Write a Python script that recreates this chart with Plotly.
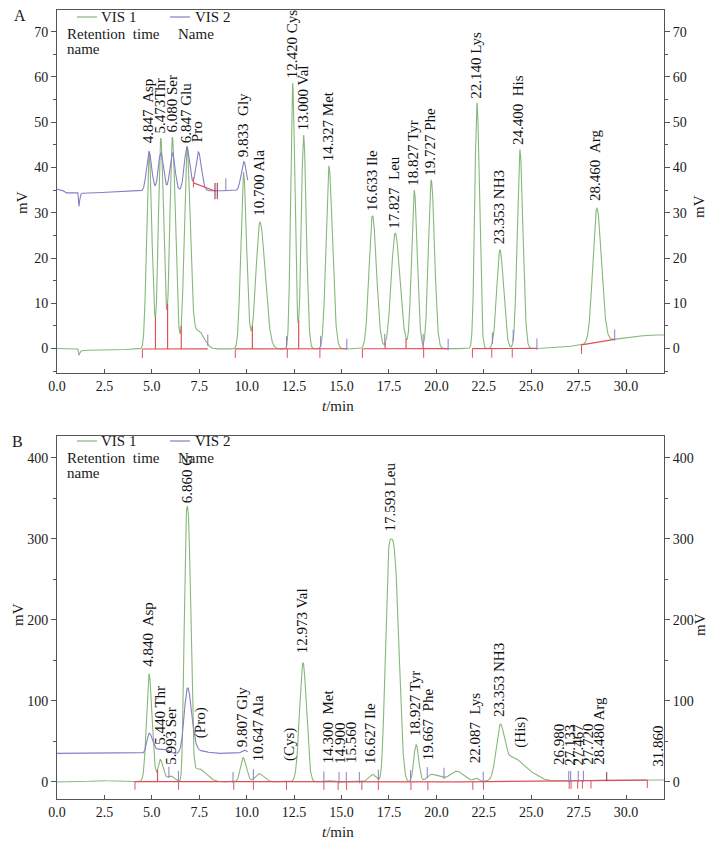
import numpy as np
import plotly.graph_objects as go

# page body has an 8px margin: figure sized to fit the window exactly
W, H = 701, 832
OFF = 8
FONT = "Liberation Serif"
GREEN = "#86b87a"
PURPLE = "#8a7cc8"
RED = "#e0505a"
DARKRED = "#8a3040"

# ---------------- Panel A (standard) ----------------
A_vis1_rt = [4.85, 5.47, 6.08, 6.85, 7.45, 9.83, 10.70, 12.42, 13.00, 14.33, 16.63, 17.83, 18.83, 19.73, 22.14, 23.35, 24.40, 28.46]
A_vis1_h = [43.6, 46.6, 46.8, 44.2, 4.0, 39.0, 28.0, 58.7, 47.2, 40.4, 29.4, 25.5, 35.0, 37.2, 54.3, 21.8, 44.0, 29.6]
A_vis1_sl = [0.125, 0.125, 0.13, 0.14, 0.30, 0.14, 0.21, 0.105, 0.12, 0.15, 0.18, 0.21, 0.14, 0.15, 0.115, 0.17, 0.14, 0.21]
A_vis1_sr = [0.15, 0.15, 0.16, 0.17, 0.30, 0.16, 0.27, 0.12, 0.14, 0.19, 0.21, 0.25, 0.16, 0.17, 0.13, 0.19, 0.16, 0.24]
A_vis1_p = [2] * 18
A_base_t = [0.0, 1.10, 1.16, 1.24, 1.40, 3.0, 4.5, 25.0, 26.5, 27.5, 28.5, 29.5, 30.5, 31.3, 32.0]
A_base_v = [0.0, -0.1, -1.5, -0.5, -0.4, -0.3, -0.1, 0.0, 0.2, 0.7, 1.4, 2.1, 2.7, 3.0, 3.0]

A_vis2_rt = [4.85, 5.47, 6.08, 6.85, 7.45, 9.85]
A_vis2_h = [8.7, 8.4, 8.4, 9.7, 8.6, 6.4]
A_vis2_sl = [0.13, 0.13, 0.13, 0.14, 0.14, 0.14]
A_vis2_sr = [0.14, 0.14, 0.14, 0.15, 0.16, 0.14]
A_vis2_p = [2] * 6
A_vis2_base_t = [0.0, 0.30, 0.45, 1.10, 1.16, 1.22, 1.30, 2.5, 4.5, 10.05]
A_vis2_base_v = [35.2, 35.0, 34.4, 34.4, 31.4, 33.8, 34.3, 34.5, 34.8, 34.9]
A_vis2_end = 10.05

A_labels = ["4.847  Asp", "5.473Thr", "6.080 Ser", "6.847 Glu", "Pro", "9.833  Gly", "10.700 Ala",
            "12.420 Cys", "13.000 Val", "14.327 Met", "16.633 Ile", "17.827  Leu", "18.827 Tyr",
            "19.727 Phe", "22.140 Lys", "23.353 NH3", "24.400  His", "28.460  Arg"]
A_label_x = [4.80, 5.45, 6.05, 6.80, 7.42, 9.80, 10.68, 12.40, 12.98, 14.30, 16.60, 17.76, 18.76,
             19.66, 22.08, 23.30, 24.30, 28.40]
A_label_y = [44.6, 46.8, 47.0, 44.8, 45.0, 41.6, 28.6, 59.0, 47.5, 40.8, 29.8, 25.9, 35.4,
             37.5, 54.6, 22.4, 44.3, 32.0]

A_drop_t = [5.19, 5.83, 6.55, 10.30, 12.74, 17.30, 18.40, 19.30]
A_start_t = [4.50, 9.40, 12.14, 13.86, 16.10, 19.33, 21.90, 22.92, 24.00, 27.65]
A_end_t = [7.95, 12.10, 13.90, 15.28, 17.28, 19.30, 20.62, 22.95, 24.05, 25.30, 29.40]
A_seg_t0 = [4.50, 9.40, 16.10, 21.90, 27.65]
A_seg_t1 = [7.95, 15.28, 20.62, 25.30, 29.40]
A2_seg_t = [7.19, 8.33]
A2_seg_v = [36.6, 34.8]
A2_tick_t = [7.19, 8.33, 8.45, 8.90]

# ---------------- Panel B (sample) ----------------
B_vis1_rt = [4.85, 5.44, 6.00, 6.86, 7.45, 9.81, 10.65, 12.97, 14.30, 16.63, 17.61, 18.93, 19.67, 20.10, 21.05, 22.09, 23.35, 24.00, 25.00]
B_vis1_h = [133, 27, 7, 337, 16, 29.6, 10, 147, 1.5, 9, 300, 46, 8, 5, 13, 4, 58, 29, 8]
B_vis1_sl = [0.135, 0.11, 0.2, 0.15, 0.3, 0.14, 0.2, 0.18, 0.2, 0.2, 0.287, 0.12, 0.2, 0.25, 0.35, 0.12, 0.2, 0.5, 0.45]
B_vis1_sr = [0.16, 0.15, 0.2, 0.19, 0.4, 0.17, 0.25, 0.18, 0.2, 0.2, 0.395, 0.14, 0.25, 0.3, 0.4, 0.12, 0.22, 0.5, 0.45]
B_vis1_p = [2, 2, 2, 2.6, 2, 2, 2, 2, 2, 2, 3, 2, 2, 2, 2, 2, 2, 2, 2]
B_base_t = [0.0, 1.5, 2.2, 3.0, 4.2, 20.0, 26.0, 28.0, 32.0]
B_base_v = [0.0, 0.5, 2.0, 1.0, 0.5, 0.0, 1.0, 2.0, 2.5]

B_vis2_rt = [4.86, 5.45, 5.80, 6.88, 7.50, 9.88]
B_vis2_h = [25, 5, 4, 80, 3, 4]
B_vis2_sl = [0.12, 0.15, 0.15, 0.17, 0.4, 0.14]
B_vis2_sr = [0.20, 0.15, 0.15, 0.22, 0.4, 0.14]
B_vis2_p = [2] * 6
B_vis2_base_t = [0.0, 10.05]
B_vis2_base_v = [35.3, 35.3]
B_vis2_end = 10.05

B_labels = ["4.840  Asp", "5.440 Thr", "5.993 Ser", "6.860 G", "(Pro)", "9.807 Gly", "10.647 Ala",
            "(Cys)", "12.973 Val", "14.300  Met", "14.900", "15.560", "16.627 Ile", "17.593 Leu",
            "18.927 Tyr", "19.667  Phe", "22.087  Lys", "23.353 NH3", "(His)", "26.980", "27.133",
            "27.467", "27.720", "28.480 Arg", "31.860"]
B_label_x = [4.80, 5.45, 6.03, 6.87, 7.60, 9.77, 10.60, 12.25, 12.93, 14.27, 14.90, 15.50, 16.50, 17.55,
             18.85, 19.60, 22.05, 23.27, 24.45, 26.43, 27.04, 27.48, 28.00, 28.59, 31.70]
B_label_y = [138, 42, 18, 340, 50, 39, 22, 22, 155, 19, 19, 19, 19, 306,
             53, 23, 19, 77, 39, 17, 17, 17, 17, 18, 15]

B_drop_t = [5.30]
B_start_t = [4.11, 6.41, 9.32, 10.35, 12.10, 14.07, 14.82, 15.27, 16.07, 16.94, 18.66, 19.55, 21.92,
             22.48, 27.00, 27.10, 27.45, 27.70, 28.15, 31.12]
B_end_t = [5.90, 6.40, 9.28, 10.35, 14.07, 14.87, 15.25, 15.94, 16.94, 18.64, 19.52, 20.40, 22.47,
           26.98, 27.08, 27.48, 27.75]
B_dark_t = [28.98]
B_seg_t0 = [4.11]
B_seg_t1 = [31.12]

A_yticks = [0, 10, 20, 30, 40, 50, 60, 70]
B_yticks = [0, 100, 200, 300, 400]
x_ticks = [0, 2.5, 5, 7.5, 10, 12.5, 15, 17.5, 20, 22.5, 25, 27.5, 30]

# ------------------------------------------------
t = np.linspace(0, 32, 3201)


def signal(tt, rt, h, sl, sr, p, bt, bv):
    y = np.interp(tt, bt, bv)
    for r, hh, a, b, pp in zip(rt, h, sl, sr, p):
        s = np.where(tt < r, a, b)
        y = y + hh * np.exp(-0.5 * np.abs((tt - r) / s) ** pp)
    return y


A1 = signal(t, A_vis1_rt, A_vis1_h, A_vis1_sl, A_vis1_sr, A_vis1_p, A_base_t, A_base_v)
t2a = t[t <= A_vis2_end]
A2 = signal(t2a, A_vis2_rt, A_vis2_h, A_vis2_sl, A_vis2_sr, A_vis2_p, A_vis2_base_t, A_vis2_base_v)
B1 = signal(t, B_vis1_rt, B_vis1_h, B_vis1_sl, B_vis1_sr, B_vis1_p, B_base_t, B_base_v)
t2b = t[t <= B_vis2_end]
B2 = signal(t2b, B_vis2_rt, B_vis2_h, B_vis2_sl, B_vis2_sr, B_vis2_p, B_vis2_base_t, B_vis2_base_v)


def segs(pairs):
    xs, ys = [], []
    for (x0, y0, x1, y1) in pairs:
        xs += [x0, x1, None]
        ys += [y0, y1, None]
    return xs, ys


fig = go.Figure()


def add_line(xs, ys, color, xa, ya, width=1.0):
    fig.add_trace(go.Scatter(x=xs, y=ys, mode="lines", line=dict(color=color, width=width),
                             xaxis=xa, yaxis=ya, hoverinfo="skip", showlegend=False))


def panel_marks(tt, curve, base_t, base_v, drop_t, start_t, end_t, seg_t0, seg_t1, down, up, xa, ya):
    bl = lambda x: float(np.interp(x, base_t, base_v))
    cv = lambda x: float(np.interp(x, tt, curve))
    xs, ys = [], []
    for a, b in zip(seg_t0, seg_t1):
        sel = np.linspace(a, b, 40)
        xs += list(sel) + [None]
        ys += [bl(v) for v in sel] + [None]
    add_line(xs, ys, RED, xa, ya, 1.2)
    xs, ys = segs([(d, bl(d), d, cv(d)) for d in drop_t])
    add_line(xs, ys, RED, xa, ya, 1.2)
    xs, ys = segs([(s, bl(s), s, bl(s) - down) for s in start_t])
    add_line(xs, ys, RED, xa, ya, 1.0)
    xs, ys = segs([(e, cv(e) - up * 0.15, e, cv(e) + up) for e in end_t])
    add_line(xs, ys, PURPLE, xa, ya, 1.0)


# Panel A traces
add_line(list(t), list(A1), GREEN, "x", "y", 1.1)
add_line(list(t2a), list(A2), PURPLE, "x", "y", 1.1)
panel_marks(t, A1, A_base_t, A_base_v, A_drop_t, A_start_t, A_end_t, A_seg_t0, A_seg_t1, 2.0, 2.2, "x", "y")
add_line(A2_seg_t, A2_seg_v, RED, "x", "y", 1.2)
xs, ys = segs([(A2_tick_t[0], 35.6, A2_tick_t[0], 37.8)])
add_line(xs, ys, RED, "x", "y", 1.0)
xs, ys = segs([(A2_tick_t[1], 33.0, A2_tick_t[1], 36.6), (A2_tick_t[2], 33.0, A2_tick_t[2], 36.6)])
add_line(xs, ys, DARKRED, "x", "y", 1.0)
xs, ys = segs([(A2_tick_t[3], 34.9, A2_tick_t[3], 37.6)])
add_line(xs, ys, PURPLE, "x", "y", 1.0)

# Panel B traces
add_line(list(t), list(B1), GREEN, "x2", "y2", 1.1)
add_line(list(t2b), list(B2), PURPLE, "x2", "y2", 1.1)
panel_marks(t, B1, B_base_t, B_base_v, B_drop_t, B_start_t, B_end_t, B_seg_t0, B_seg_t1, 10.0, 12.0, "x2", "y2")
xs, ys = segs([(d, float(np.interp(d, t, B1)) - 1, d, float(np.interp(d, t, B1)) + 10) for d in B_dark_t])
add_line(xs, ys, DARKRED, "x2", "y2", 1.0)

# dummy traces so the right-hand axes are drawn
fig.add_trace(go.Scatter(x=[0], y=[0], xaxis="x", yaxis="y3", mode="markers",
                         marker=dict(opacity=0), hoverinfo="skip", showlegend=False))
fig.add_trace(go.Scatter(x=[0], y=[0], xaxis="x2", yaxis="y4", mode="markers",
                         marker=dict(opacity=0), hoverinfo="skip", showlegend=False))


def px(v):
    return (v - OFF) / W


def py(v):
    return 1 - (v - OFF) / H


AX = "#555555"
TF = dict(family=FONT, size=14, color="#1a1a1a")
xdom = [px(57), px(664)]
xcommon = dict(domain=xdom, range=[0, 32], tickvals=x_ticks, tickformat=".1f", ticks="inside",
               ticklen=4, tickcolor=AX, showline=True, linecolor=AX, linewidth=1, mirror=True,
               showgrid=False, zeroline=False, tickfont=TF, fixedrange=True, automargin=False)
ycommon = dict(ticks="outside", ticklen=5, tickcolor=AX, showline=True, linecolor=AX, linewidth=1,
               showgrid=False, zeroline=False, tickfont=TF, fixedrange=True, automargin=False)

fig.update_layout(
    width=W, height=H, margin=dict(l=0, r=0, t=0, b=0),
    paper_bgcolor="white", plot_bgcolor="white", showlegend=False,
    font=dict(family=FONT, size=14, color="#1a1a1a"),
    xaxis=dict(**xcommon, anchor="y"),
    xaxis2=dict(**xcommon, anchor="y2"),
    yaxis=dict(**ycommon, domain=[py(373), py(10)], range=[-5.4, 74.8], tickvals=A_yticks,
               minor=dict(dtick=5, tick0=0, ticks="outside", ticklen=3, tickcolor=AX), anchor="x"),
    yaxis3=dict(**ycommon, domain=[py(373), py(10)], range=[-5.4, 74.8], tickvals=A_yticks,
                minor=dict(dtick=5, tick0=0, ticks="outside", ticklen=3, tickcolor=AX),
                overlaying="y", side="right", anchor="x"),
    yaxis2=dict(**ycommon, domain=[py(799), py(436)], range=[-21, 427], tickvals=B_yticks,
                minor=dict(dtick=50, tick0=0, ticks="outside", ticklen=3, tickcolor=AX), anchor="x2"),
    yaxis4=dict(**ycommon, domain=[py(799), py(436)], range=[-21, 427], tickvals=B_yticks,
                minor=dict(dtick=50, tick0=0, ticks="outside", ticklen=3, tickcolor=AX),
                overlaying="y2", side="right", anchor="x2"),
)

ann = []
LF = dict(family=FONT, size=15, color="#111111")
for txt, x, y in zip(A_labels, A_label_x, A_label_y):
    ann.append(dict(x=x, y=y, xref="x", yref="y", text=txt, textangle=-90, showarrow=False,
                    xanchor="center", yanchor="bottom", font=LF, yshift=1))
for txt, x, y in zip(B_labels, B_label_x, B_label_y):
    ann.append(dict(x=x, y=y, xref="x2", yref="y2", text=txt, textangle=-90, showarrow=False,
                    xanchor="center", yanchor="bottom", font=LF, yshift=1))

GF = dict(family=FONT, size=15, color="#1a1a1a")
shapes = []
for dy, letter, lx, ly in [(0, "A", 20, 16), (424, "B", 17, 441)]:
    ann.append(dict(x=px(lx), y=py(ly), xref="paper", yref="paper", text=letter, showarrow=False,
                    xanchor="center", yanchor="middle", font=dict(family=FONT, size=16, color="#1a1a1a")))
    shapes.append(dict(type="line", xref="paper", yref="paper", x0=px(77), x1=px(97),
                       y0=py(17 + dy), y1=py(17 + dy), line=dict(color=GREEN, width=1.2)))
    shapes.append(dict(type="line", xref="paper", yref="paper", x0=px(170), x1=px(190),
                       y0=py(17 + dy), y1=py(17 + dy), line=dict(color=PURPLE, width=1.2)))
    for txt, x, y in [("VIS 1", 100, 17), ("VIS 2", 194, 17), ("Retention  time", 66, 34),
                      ("Name", 177, 34), ("name", 66, 49)]:
        ann.append(dict(x=px(x), y=py(y + dy), xref="paper", yref="paper", text=txt, showarrow=False,
                        xanchor="left", yanchor="middle", font=GF, borderpad=0))

for x, y in [(22, 203), (699, 207), (18, 615), (700, 625)]:
    ann.append(dict(x=px(x), y=py(y), xref="paper", yref="paper", text="mV", textangle=-90,
                    showarrow=False, xanchor="center", yanchor="middle", font=GF, borderpad=0))
for y in [406, 832]:
    ann.append(dict(x=px(338), y=py(y), xref="paper", yref="paper", text="<i>t</i>/min",
                    showarrow=False, xanchor="center", yanchor="middle", font=GF))

fig.update_layout(annotations=ann, shapes=shapes)
fig.write_html("out.html")
